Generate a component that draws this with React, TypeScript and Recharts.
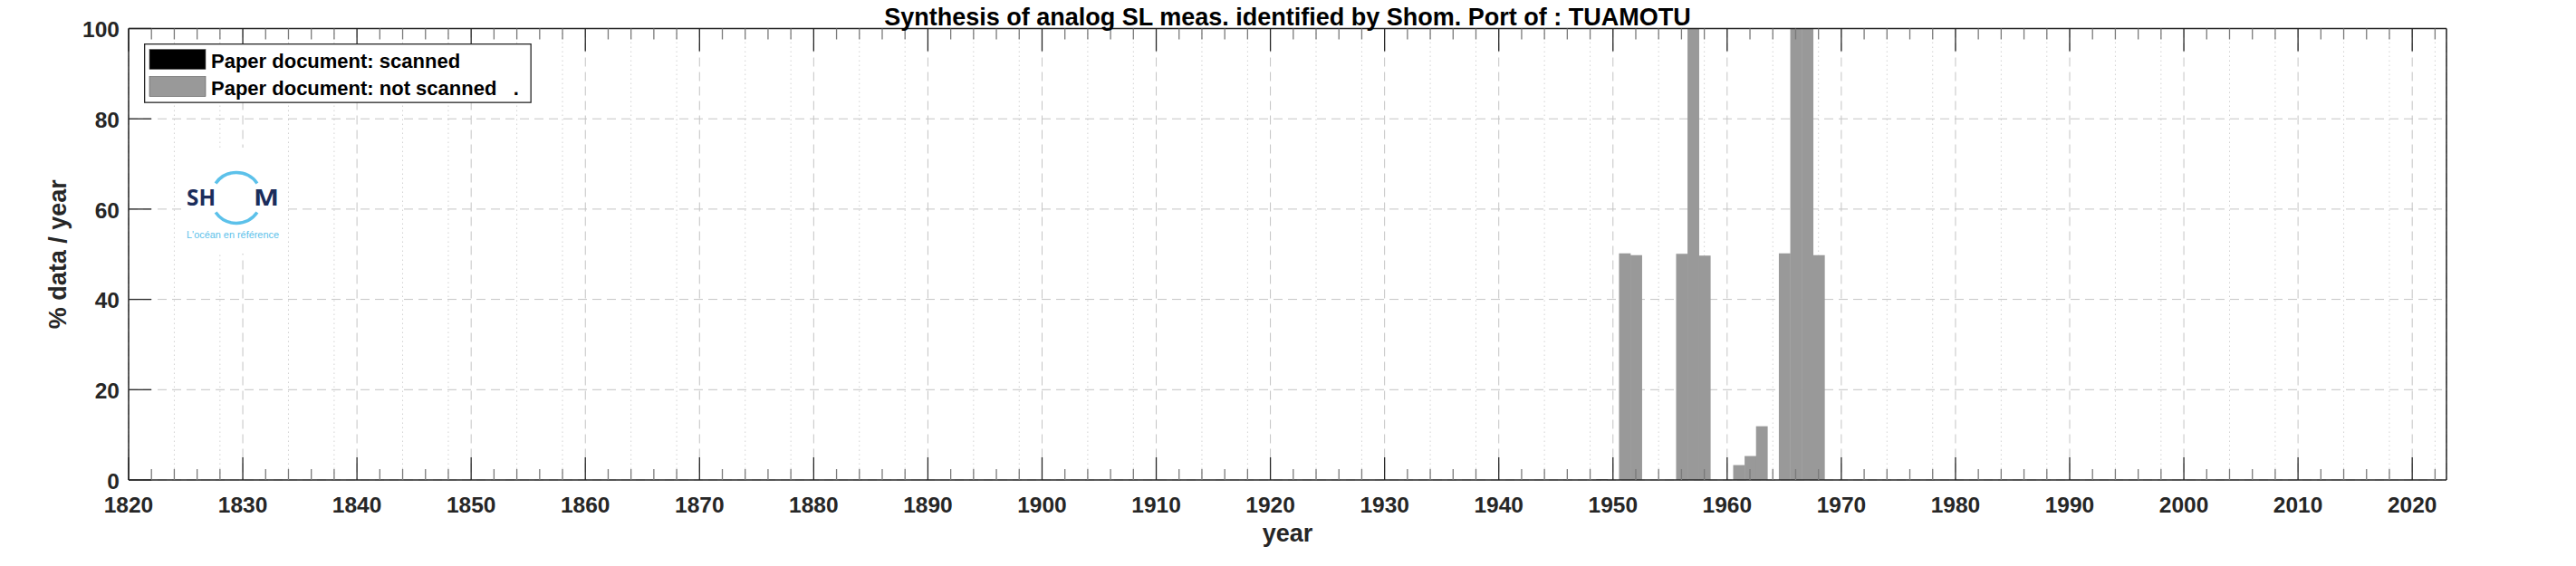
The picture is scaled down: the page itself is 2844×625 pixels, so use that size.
import React from 'react';
import { BarChart, Bar, XAxis, YAxis, CartesianGrid } from 'recharts';

// years holding data, and the % of the year covered by paper documents
const years = [1949, 1951, 1952, 1956, 1957, 1958, 1961, 1962, 1963, 1965, 1966, 1967, 1968];
const notScanned = [0.2, 50.2, 49.8, 50.1, 100, 49.7, 3.3, 5.3, 11.9, 50.2, 100, 100, 49.8];
const scanned = [0, 0, 0, 0, 0, 0, 0, 0, 0, 0, 0, 0, 0];

const seriesNames = ['Paper document: scanned', 'Paper document: not scanned   .'];
const seriesColors = ['#000000', '#999999'];

const majorYears = [1820, 1830, 1840, 1850, 1860, 1870, 1880, 1890, 1900, 1910, 1920,
  1930, 1940, 1950, 1960, 1970, 1980, 1990, 2000, 2010, 2020];
const yTicks = [0, 20, 40, 60, 80, 100];

const X_MIN = 1820;
const X_MAX = 2023;
const allYears = Array.from({ length: (2022 - X_MIN) / 2 + 1 }, (_, i) => X_MIN + i * 2);
const minorYears = allYears.filter((y) => y % 10 !== 0);

const rows = years.map((year, i) => ({ year, scanned: scanned[i], notScanned: notScanned[i] }));

const W = 2844;
const H = 625;
const LEFT = 142;
const RIGHT = 2701;
const TOP = 31.5;
const BOTTOM = 530;
const BAR = (RIGHT - LEFT) / (X_MAX - X_MIN);

const FONT = "'Liberation Sans', Arial, Helvetica, sans-serif";
const AXIS = '#262626';

// one bar fills its whole year, centred where recharts put it
const YearBar = ({ x, y, width, height, fill }: any) => {
  if (!height || height <= 0) return null;
  const cx = x + width / 2;
  return <rect x={cx - BAR / 2} y={y} width={BAR + 0.3} height={height} fill={fill} />;
};

const BottomTick = ({ x, payload }: any) => {
  const v = payload.value;
  const major = v % 10 === 0;
  return (
    <g>
      <line x1={x} x2={x} y1={BOTTOM} y2={BOTTOM - (major ? 25 : 12)} stroke={major ? AXIS : '#7a7a7a'} strokeWidth={1.3} />
      {major && (
        <text x={x} y={BOTTOM + 36} textAnchor="middle" fontFamily={FONT} fontWeight="bold" fontSize={24.5} fill={AXIS}>
          {v}
        </text>
      )}
    </g>
  );
};

const TopTick = ({ x, payload }: any) => {
  const major = payload.value % 10 === 0;
  return <line x1={x} x2={x} y1={TOP} y2={TOP + (major ? 25 : 12)} stroke={major ? AXIS : '#7a7a7a'} strokeWidth={1.3} />;
};

const LeftTick = ({ y, payload }: any) => (
  <g>
    <line x1={LEFT} x2={LEFT + 25} y1={y} y2={y} stroke={AXIS} strokeWidth={1.3} />
    <text x={LEFT - 10} y={y + 9.8} textAnchor="end" fontFamily={FONT} fontWeight="bold" fontSize={24.5} fill={AXIS}>
      {payload.value}
    </text>
  </g>
);

const RightTick = ({ y }: any) => <line x1={RIGHT} x2={RIGHT - 25} y1={y} y2={y} stroke={AXIS} strokeWidth={1.3} />;

export default function App() {
  return (
    <div style={{ position: 'absolute', left: 0, top: 0, width: W, height: H, background: '#fff' }}>
      <BarChart width={W} height={H} data={rows}
        margin={{ top: TOP - 1, right: W - RIGHT - 1, bottom: H - BOTTOM - 1, left: 0 }}>
        <XAxis xAxisId="major" dataKey="year" type="number" domain={[X_MIN, X_MAX]} ticks={majorYears} hide allowDataOverflow />
        <XAxis xAxisId="minor" dataKey="year" type="number" domain={[X_MIN, X_MAX]} ticks={minorYears} hide allowDataOverflow />
        <CartesianGrid xAxisId="minor" yAxisId="left" horizontal={false} stroke="#d2d2d2" strokeDasharray="1.5 3.5" />
        <CartesianGrid xAxisId="major" yAxisId="left" stroke="#c4c4c4" strokeDasharray="10 6" />
        <Bar xAxisId="main" yAxisId="left" dataKey="scanned" name={seriesNames[0]} stackId="s" fill={seriesColors[0]}
          barSize={BAR} shape={<YearBar />} isAnimationActive={false} />
        <Bar xAxisId="main" yAxisId="left" dataKey="notScanned" name={seriesNames[1]} stackId="s" fill={seriesColors[1]}
          barSize={BAR} shape={<YearBar />} isAnimationActive={false} />
        <XAxis xAxisId="main" dataKey="year" type="number" domain={[X_MIN, X_MAX]} ticks={allYears} interval={0}
          height={1} tickSize={0} tickMargin={0} tickLine={false} tick={<BottomTick />}
          axisLine={{ stroke: AXIS, strokeWidth: 1.5 }} allowDataOverflow />
        <XAxis xAxisId="top" orientation="top" dataKey="year" type="number" domain={[X_MIN, X_MAX]} ticks={allYears}
          interval={0} height={1} tickSize={0} tickMargin={0} tickLine={false} tick={<TopTick />}
          axisLine={{ stroke: AXIS, strokeWidth: 1.5 }} allowDataOverflow />
        <YAxis yAxisId="left" type="number" domain={[0, 100]} ticks={yTicks} interval={0} width={LEFT}
          tickSize={0} tickMargin={0} tickLine={false} tick={<LeftTick />} axisLine={{ stroke: AXIS, strokeWidth: 1.5 }} />
        <YAxis yAxisId="right" orientation="right" type="number" domain={[0, 100]} ticks={yTicks} interval={0} width={1}
          tickSize={0} tickMargin={0} tickLine={false} tick={<RightTick />} axisLine={{ stroke: AXIS, strokeWidth: 1.5 }} />
      </BarChart>
      <svg width={W} height={H} style={{ position: 'absolute', left: 0, top: 0, pointerEvents: 'none' }}>
        <text x={(LEFT + RIGHT) / 2} y={28} textAnchor="middle" fontFamily={FONT} fontWeight="bold" fontSize={27} fill="#000">
          Synthesis of analog SL meas. identified by Shom. Port of : TUAMOTU
        </text>
        <text x={(LEFT + RIGHT) / 2} y={598} textAnchor="middle" fontFamily={FONT} fontWeight="bold" fontSize={27} fill={AXIS}>
          year
        </text>
        <text transform={`translate(72.5 ${(TOP + BOTTOM) / 2}) rotate(-90)`} textAnchor="middle" fontFamily={FONT}
          fontWeight="bold" fontSize={27} fill={AXIS}>
          % data / year
        </text>
        <g transform="translate(159 48)">
          <rect x={0.65} y={0.65} width={426.5} height={64.5} fill="#fff" stroke={AXIS} strokeWidth={1.3} />
          {seriesNames.map((name, i) => (
            <g key={name}>
              <rect x={6} y={6.5 + i * 30} width={62} height={22} fill={seriesColors[i]} stroke="#555" strokeWidth={0.6} />
              <text x={74} y={26.5 + i * 30} fontFamily={FONT} fontWeight="bold" fontSize={22} fill="#000"
                style={{ whiteSpace: 'pre' }}>
                {name}
              </text>
            </g>
          ))}
        </g>
        <g>
          <rect x={200} y={163} width={112} height={117} fill="#fff" />
          <text x={206} y={227} fontFamily="'Open Sans', sans-serif" fontWeight="bold" fontSize={25} fill="#1b2d5c"
            textLength={32} lengthAdjust="spacingAndGlyphs">SH</text>
          <text x={280} y={227} fontFamily="'Open Sans', sans-serif" fontWeight="bold" fontSize={25} fill="#1b2d5c"
            textLength={28} lengthAdjust="spacingAndGlyphs">M</text>
          <path d="M 238.1 202.4 A 28 28 0 0 1 283.9 202.4" fill="none" stroke="#5cc1ea" strokeWidth={3.5} />
          <path d="M 238.1 234.6 A 28 28 0 0 0 283.9 234.6" fill="none" stroke="#5cc1ea" strokeWidth={3.5} />
          <text x={206} y={263} fontFamily="'Liberation Sans Narrow', 'Liberation Sans', sans-serif" fontSize={11}
            fill="#5cc1ea" textLength={102} lengthAdjust="spacingAndGlyphs">L'océan en référence</text>
        </g>
      </svg>
    </div>
  );
}
